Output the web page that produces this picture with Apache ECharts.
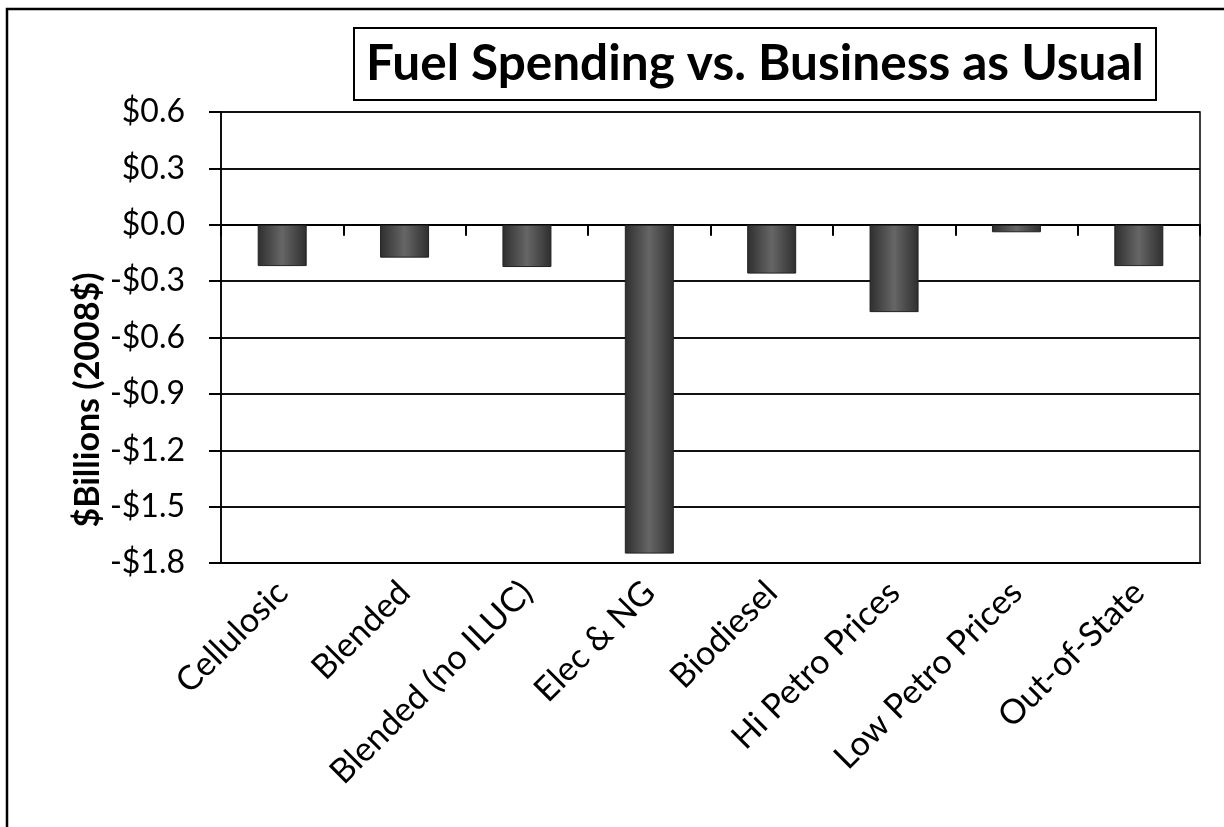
<!DOCTYPE html>
<html>
<head>
<meta charset="utf-8">
<script src="https://cdn.jsdelivr.net/npm/echarts@6/dist/echarts.min.js"></script>
<style>
  html, body { margin: 0; padding: 0; background: #fff; }
  #chart { width: 1224px; height: 827px; }
</style>
</head>
<body>
<div id="chart"></div>
<script>
// scenarios along the x axis
const categories = ['Cellulosic', 'Blended', 'Blended (no ILUC)', 'Elec & NG',
  'Biodiesel', 'Hi Petro Prices', 'Low Petro Prices', 'Out-of-State'];
// fuel spending change vs. BAU, $ billions (2008$)
const spending = [-0.22, -0.175, -0.225, -1.75, -0.26, -0.465, -0.04, -0.22];
// y axis range / step
const yMin = -1.8;
const yMax = 0.6;
const yStep = 0.3;

const FONT = 'Lato, "Open Sans", sans-serif';

let chart = echarts.init(document.getElementById('chart'));

function money(v) {
  let s = '$' + Math.abs(v).toFixed(1);
  return v < -1e-9 ? '-' + s : s;
}

const barColor = new echarts.graphic.LinearGradient(0, 0, 1, 0, [
  { offset: 0, color: '#2e2e2e' },
  { offset: 0.5, color: '#666' },
  { offset: 1, color: '#2e2e2e' }
]);

let option = {
  backgroundColor: '#fff',
  animation: false,
  title: {
    text: 'Fuel Spending vs. Business as Usual',
    left: 354,
    top: 28,
    padding: [11, 12],
    borderColor: '#000',
    borderWidth: 2,
    textStyle: { fontFamily: FONT, fontWeight: 'bold', fontSize: 49.5, color: '#000' }
  },
  graphic: [
    // outer chart frame (right/bottom edges fall off the page like the scan)
    { type: 'rect', shape: { x: 7, y: 9, width: 1240, height: 840 },
      style: { fill: null, stroke: '#000', lineWidth: 2.5 }, silent: true },
    { type: 'text', x: 88, y: 400, rotation: Math.PI / 2,
      style: { text: '$Billions (2008$)', fontFamily: FONT, fontWeight: 'bold',
        fontSize: 34, fill: '#000', align: 'center', verticalAlign: 'middle' } }
  ],
  grid: {
    left: 221, right: 24, top: 112, bottom: 264,
    show: true, borderColor: '#000', borderWidth: 1.5
  },
  xAxis: [
    {
      type: 'category',
      data: categories,
      position: 'bottom',
      axisLine: { onZero: false, lineStyle: { color: '#000', width: 2 } },
      axisTick: { show: false },
      axisLabel: {
        rotate: 45, margin: 24, color: '#000',
        fontFamily: FONT, fontSize: 34, interval: 0
      }
    },
    {
      type: 'category',
      data: categories,
      position: 'bottom',
      axisLine: { onZero: true, lineStyle: { color: '#000', width: 2 } },
      axisTick: { show: true, interval: 0, length: 11, lineStyle: { color: '#000', width: 2 } },
      axisLabel: { show: false, interval: 0 }
    }
  ],
  yAxis: {
    type: 'value',
    min: yMin,
    max: yMax,
    interval: yStep,
    axisLine: { show: true, lineStyle: { color: '#000', width: 1.5 } },
    axisTick: { show: true, length: 12, lineStyle: { color: '#000', width: 2 } },
    axisLabel: {
      margin: 36, color: '#000', fontFamily: FONT, fontSize: 32,
      formatter: money
    },
    splitLine: { lineStyle: { color: '#111', width: 2 } }
  },
  series: [{
    type: 'bar',
    data: spending,
    barWidth: 49,
    itemStyle: { color: barColor, borderColor: '#222', borderWidth: 1 }
  }]
};

chart.setOption(option);
</script>
</body>
</html>
